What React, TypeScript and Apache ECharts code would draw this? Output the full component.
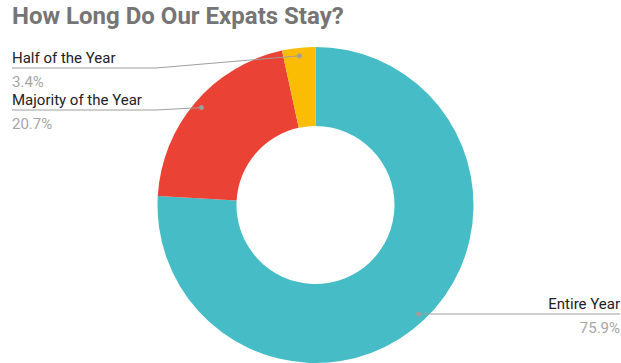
import React, { useEffect, useRef } from "react";
import * as echarts from "echarts";

const categories = ["Entire Year", "Majority of the Year", "Half of the Year"];
const percents = [75.9, 20.7, 3.4];
const colors = ["#46BDC6", "#EA4335", "#FBBC04"];

const CX = 315.5;
const CY = 205;
const R_OUT = 158;
const R_IN = 79;
const DOT_R = 150;
const LN = 20; // name line height
const LV = 28; // value line height

// label placement per slice (layout only)
const labelSpots = [
  { side: "right", lineY: null as number | null, edge: 620, bendX: 0 },
  { side: "left", lineY: 110, edge: 12, bendX: 156 },
  { side: "left", lineY: 68, edge: 12, bendX: 156 },
];

export default function App() {
  const ref = useRef<HTMLDivElement>(null);
  useEffect(() => {
    document.body.style.margin = "0";
    const chart = echarts.init(ref.current!, null, { renderer: "svg" });
    const dots: number[][] = [];
    const lines: number[][][] = [];
    chart.setOption({
      animation: false,
      title: {
        text: "How Long Do Our Expats Stay?",
        left: 12,
        top: 4,
        padding: 0,
        textStyle: { fontFamily: "Roboto", fontWeight: "bold", fontSize: 24, color: "#757575" },
      },
      series: [
        {
          type: "pie",
          center: [CX, CY],
          radius: [R_IN, R_OUT],
          startAngle: 90,
          clockwise: true,
          data: categories.map((c, i) => ({ name: c, value: percents[i], itemStyle: { color: colors[i] } })),
          label: {
            formatter: "{n|{b}}\n{v|{c}%}",
            rich: {
              n: { fontFamily: "Roboto", fontSize: 15, color: "#222222", lineHeight: LN },
              v: { fontFamily: "Roboto", fontSize: 15, color: "#a6a6a6", lineHeight: LV },
            },
          },
          labelLine: { show: true, lineStyle: { color: "#9e9e9e", width: 1, opacity: 0 } },
          labelLayout: (p: any) => {
            const pts = p.labelLinePoints;
            if (!pts) return {};
            const [x0, y0] = pts[0];
            const k = DOT_R / Math.hypot(x0 - CX, y0 - CY);
            const dot = [CX + (x0 - CX) * k, CY + (y0 - CY) * k];
            dots[p.dataIndex] = dot;
            const L = labelSpots[p.dataIndex];
            const ly = L.lineY ?? dot[1];
            const left = L.side === "left";
            const linePts = left
              ? [dot, [L.bendX, ly], [L.edge, ly]]
              : [dot, [dot[0], ly], [L.edge, ly]];
            lines[p.dataIndex] = linePts;
            return {
              x: L.edge,
              y: ly + (LV - LN) / 2,
              align: left ? "left" : "right",
              verticalAlign: "middle",
              labelLinePoints: linePts,
            };
          },
        },
      ],
    });
    chart.setOption({
      graphic: [
        ...lines.map((pts) => ({
          type: "polyline",
          z: 99,
          silent: true,
          shape: { points: pts },
          style: { stroke: "#9e9e9e", lineWidth: 1, fill: "none" },
        })),
        ...dots.map((d) => ({
          type: "circle",
          z: 100,
          silent: true,
          shape: { cx: d[0], cy: d[1], r: 2.5 },
          style: { fill: "#9e9e9e" },
        })),
      ],
    });
    return () => chart.dispose();
  }, []);
  return <div ref={ref} style={{ width: 621, height: 363 }} />;
}
